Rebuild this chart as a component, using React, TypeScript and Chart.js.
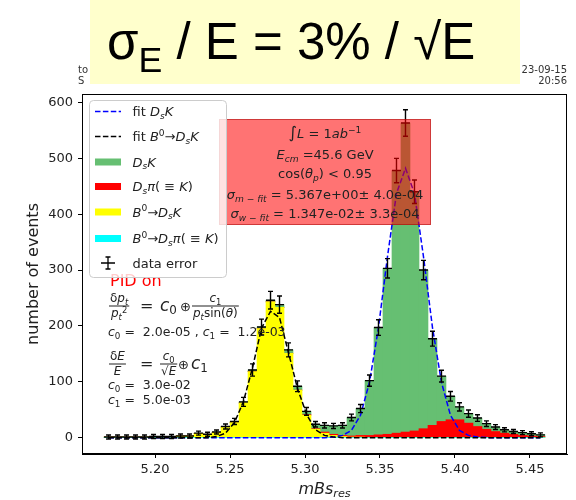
import React, { useEffect, useRef } from 'react';
import { Chart, registerables } from 'chart.js';

Chart.register(...registerables);

// ---------------- data ----------------
const binCenters = [5.169, 5.175, 5.181, 5.187, 5.193, 5.199, 5.205, 5.211, 5.217, 5.223, 5.229, 5.235, 5.241, 5.247, 5.253, 5.259, 5.265, 5.271, 5.277, 5.283, 5.289, 5.295, 5.301, 5.307, 5.313, 5.319, 5.325, 5.331, 5.337, 5.343, 5.349, 5.355, 5.361, 5.367, 5.373, 5.379, 5.385, 5.391, 5.397, 5.403, 5.409, 5.415, 5.421, 5.427, 5.433, 5.439, 5.445, 5.451, 5.457];
const binHalfWidth = 0.003;
const dataCounts = [1, 1, 1, 1, 1, 2, 2, 2, 3, 3, 8, 6, 10, 20, 29, 64, 121, 198, 246, 238, 157, 92, 47, 24, 22, 21, 22, 36, 52, 102, 197, 303, 478, 563, 440, 300, 177, 110, 74, 55, 43, 35, 25, 19, 14, 11, 9, 7, 5];
const histDsK = [0, 0, 0, 0, 0, 0, 0, 0, 0, 0, 1, 0, 1, 1, 2, 2, 3, 3, 3, 5, 6, 7, 6, 8, 12, 15, 18, 33, 48, 98, 192, 297, 470, 553, 428, 284, 155, 81, 42, 23, 17, 15, 10, 8, 6, 5, 5, 4, 3];
const histDsPi = [0, 0, 0, 0, 0, 0, 0, 0, 0, 0, 0, 0, 0, 0, 0, 0, 0, 0, 0, 0, 0, 0, 1, 1, 2, 2, 2, 2, 3, 4, 5, 6, 8, 10, 12, 16, 22, 29, 32, 32, 26, 20, 15, 11, 8, 6, 4, 3, 2];
const histB0DsK = [1, 1, 1, 1, 1, 2, 2, 2, 3, 3, 7, 6, 9, 19, 27, 62, 118, 195, 243, 233, 151, 85, 40, 15, 8, 4, 2, 1, 1, 0, 0, 0, 0, 0, 0, 0, 0, 0, 0, 0, 0, 0, 0, 0, 0, 0, 0, 0, 0];
const histB0DsPi = [0, 0, 0, 0, 0, 0, 0, 0, 0, 0, 0, 0, 0, 0, 0, 0, 0, 0, 0, 0, 0, 0, 0, 0, 0, 0, 0, 0, 0, 0, 0, 0, 0, 0, 0, 0, 0, 0, 0, 0, 0, 0, 0, 0, 0, 0, 0, 0, 0];
const fitDsK = [0, 0, 0, 0, 0, 0, 0, 0, 0, 0, 0, 0, 0, 0, 0, 0, 0, 0, 0, 0, 0, 0, 0, 0, 0, 1, 4, 13, 40, 99, 197, 324, 437, 482, 437, 324, 197, 99, 40, 13, 4, 1, 0, 0, 0, 0, 0, 0, 0];
const fitB0DsK = [0, 0, 0, 0, 0, 0, 0, 0, 0, 0, 0, 0, 2, 8, 27, 65, 125, 196, 226, 215, 152, 88, 42, 14, 4, 1, 0, 0, 0, 0, 0, 0, 0, 0, 0, 0, 0, 0, 0, 0, 0, 0, 0, 0, 0, 0, 0, 0, 0];
const xTicks = [5.2, 5.25, 5.3, 5.35, 5.4, 5.45];
const yTicks = [0, 100, 200, 300, 400, 500, 600];

// ---------------- styles ----------------
const GREEN = '#66BF72';
const RED = '#FF0000';
const YELLOW = '#FFFF00';
const CYAN = '#00FFFF';
const FAM = '"DejaVu Sans"';
const TXT = '#222222';

type Seg = { t: string; it?: boolean; sub?: boolean; sup?: boolean; sc?: number; fam?: string; dy?: number };

function segSize(s: Seg, size: number) {
  return size * (s.sc ?? 1) * (s.sub || s.sup ? 0.7 : 1);
}
function setSegFont(ctx: CanvasRenderingContext2D, s: Seg, size: number) {
  ctx.font = `${s.it ? 'italic ' : ''}${segSize(s, size)}px ${s.fam ?? FAM}`;
}
function measureRich(ctx: CanvasRenderingContext2D, segs: Seg[], size: number) {
  let w = 0;
  for (const s of segs) {
    setSegFont(ctx, s, size);
    w += ctx.measureText(s.t).width;
  }
  return w;
}
function drawRich(ctx: CanvasRenderingContext2D, segs: Seg[], x: number, y: number, size: number, align: 'left' | 'center' | 'right' = 'left') {
  const w = measureRich(ctx, segs, size);
  let cx = align === 'center' ? x - w / 2 : align === 'right' ? x - w : x;
  ctx.textAlign = 'left';
  ctx.textBaseline = 'alphabetic';
  for (const s of segs) {
    setSegFont(ctx, s, size);
    const dy = s.dy !== undefined ? s.dy * size : s.sub ? size * 0.2 : s.sup ? -size * 0.4 : 0;
    ctx.fillText(s.t, cx, y + dy);
    cx += ctx.measureText(s.t).width;
  }
  return w;
}
function drawFrac(ctx: CanvasRenderingContext2D, num: Seg[], den: Seg[], x: number, barY: number, size: number) {
  const wn = measureRich(ctx, num, size);
  const wd = measureRich(ctx, den, size);
  const w = Math.max(wn, wd) + 2;
  drawRich(ctx, num, x + (w - wn) / 2, barY - size * 0.3, size);
  drawRich(ctx, den, x + (w - wd) / 2, barY + size * 0.95, size);
  ctx.fillRect(x, barY - 0.5, w, 1);
  return w;
}

const DsK: Seg[] = [{ t: 'D', it: true }, { t: 's', it: true, sub: true }, { t: 'K', it: true }];
const DsPi: Seg[] = [{ t: 'D', it: true }, { t: 's', it: true, sub: true }, { t: 'π', it: true }, { t: '( ≡ ' }, { t: 'K', it: true }, { t: ')' }];
const B0: Seg[] = [{ t: 'B', it: true }, { t: '0', sup: true }, { t: '→' }];

const legendRows: { kind: string; color: string; y: number; segs: Seg[] }[] = [
  { kind: 'line', color: '#0000FF', y: 111.5, segs: [{ t: 'fit ' }, ...DsK] },
  { kind: 'line', color: '#000000', y: 136.5, segs: [{ t: 'fit ' }, ...B0, ...DsK] },
  { kind: 'patch', color: GREEN, y: 162, segs: DsK },
  { kind: 'patch', color: RED, y: 186.5, segs: DsPi },
  { kind: 'patch', color: YELLOW, y: 212, segs: [...B0, ...DsK] },
  { kind: 'patch', color: CYAN, y: 238.5, segs: [...B0, ...DsPi] },
  { kind: 'err', color: '#000000', y: 263, segs: [{ t: 'data error' }] },
];

const boxLines: { y: number; segs: Seg[] }[] = [
  { y: 138, segs: [{ t: '∫', sc: 1.25 }, { t: 'L', it: true }, { t: ' = 1' }, { t: 'ab', it: true }, { t: '−1', sup: true }] },
  { y: 159, segs: [{ t: 'E', it: true }, { t: 'cm', it: true, sub: true }, { t: ' =45.6 GeV' }] },
  { y: 178, segs: [{ t: 'cos(' }, { t: 'θ', it: true }, { t: 'p', it: true, sub: true }, { t: ') < 0.95' }] },
  { y: 199, segs: [{ t: 'σ', it: true }, { t: 'm − fit', it: true, sub: true }, { t: ' = 5.367e+00± 4.0e-04' }] },
  { y: 218, segs: [{ t: 'σ', it: true }, { t: 'w − fit', it: true, sub: true }, { t: ' = 1.347e-02± 3.3e-04' }] },
];

function drawDashedLine(ctx: CanvasRenderingContext2D, x1: number, x2: number, y: number, color: string) {
  ctx.save();
  ctx.strokeStyle = color;
  ctx.lineWidth = 1.5;
  ctx.setLineDash([5.5, 2.4]);
  ctx.beginPath();
  ctx.moveTo(x1, y);
  ctx.lineTo(x2, y);
  ctx.stroke();
  ctx.restore();
}

const overlayPlugin = {
  id: 'overlay',
  afterDatasetsDraw(chart: any) {
    const ctx: CanvasRenderingContext2D = chart.ctx;
    const xs = chart.scales.x;
    const ys = chart.scales.y;
    const ca = chart.chartArea;
    ctx.save();
    ctx.beginPath();
    ctx.rect(ca.left, ca.top, ca.right - ca.left, ca.bottom - ca.top);
    ctx.clip();
    ctx.strokeStyle = '#000';
    ctx.lineWidth = 1.4;
    binCenters.forEach((c, i) => {
      const n = dataCounts[i];
      const e = Math.sqrt(n);
      const px = xs.getPixelForValue(c);
      const py = ys.getPixelForValue(n);
      let pt = ys.getPixelForValue(n + e);
      let pb = ys.getPixelForValue(n - e);
      if (py - pt < 2) { pt = py - 2; pb = py + 2; }
      const xl = xs.getPixelForValue(c - binHalfWidth);
      const xr = xs.getPixelForValue(c + binHalfWidth);
      ctx.beginPath();
      ctx.moveTo(px, pt); ctx.lineTo(px, pb);
      ctx.moveTo(px - 2.5, pt); ctx.lineTo(px + 2.5, pt);
      ctx.moveTo(px - 2.5, pb); ctx.lineTo(px + 2.5, pb);
      ctx.moveTo(xl, py); ctx.lineTo(xr, py);
      ctx.stroke();
    });
    ctx.restore();
    // frame
    ctx.save();
    ctx.strokeStyle = '#000';
    ctx.lineWidth = 1;
    ctx.strokeRect(Math.round(ca.left) + 0.5, Math.round(ca.top) + 0.5, Math.round(ca.right - ca.left) - 1, Math.round(ca.bottom - ca.top) - 1);
    ctx.restore();
  },
  afterDraw(chart: any) {
    const ctx: CanvasRenderingContext2D = chart.ctx;
    const ca = chart.chartArea;
    ctx.save();
    // header text behind the yellow title box
    ctx.fillStyle = '#333';
    ctx.font = `10px ${FAM}`;
    ctx.textAlign = 'left';
    ctx.fillText('to', 78, 73);
    ctx.fillText('S', 78, 84);
    ctx.textAlign = 'right';
    ctx.fillText('23-09-15', 567, 73);
    ctx.fillText('20:56', 567, 84);
    // yellow title box
    ctx.fillStyle = '#FFFFCC';
    ctx.fillRect(90, 0, 430, 84);
    ctx.fillStyle = '#000';
    drawRich(ctx, [
      { t: 'σ', fam: '"Liberation Sans"' },
      { t: 'E', fam: '"Liberation Sans"', sc: 1 / 0.7 * 0.7, sub: true, dy: 0.25 },
      { t: ' / E = 3% / √E', fam: '"Liberation Sans"' },
    ], 107, 59, 51);

    // axis titles
    ctx.fillStyle = TXT;
    drawRich(ctx, [{ t: 'mBs', it: true }, { t: 'res', it: true, sub: true }], (ca.left + ca.right) / 2, 494, 16, 'center');
    ctx.save();
    ctx.translate(38, (ca.top + ca.bottom) / 2);
    ctx.rotate(-Math.PI / 2);
    ctx.font = `16px ${FAM}`;
    ctx.textAlign = 'center';
    ctx.textBaseline = 'alphabetic';
    ctx.fillText('number of events', 0, 0);
    ctx.restore();

    // red annotation box
    ctx.fillStyle = 'rgba(255,0,0,0.55)';
    ctx.fillRect(219, 119, 212, 106);
    ctx.strokeStyle = 'rgba(160,0,0,0.5)';
    ctx.lineWidth = 1;
    ctx.strokeRect(219.5, 119.5, 211, 105);
    ctx.fillStyle = TXT;
    boxLines.forEach((l) => drawRich(ctx, l.segs, 325, l.y, 13, 'center'));

    // PID text
    ctx.fillStyle = '#FF0000';
    ctx.font = `16px ${FAM}`;
    ctx.textAlign = 'left';
    ctx.fillText('PID on', 110, 286);
    ctx.fillStyle = TXT;
    // formula 1
    drawFrac(ctx, [{ t: 'δ' }, { t: 'p', it: true }, { t: 't', it: true, sub: true }], [{ t: 'p', it: true }, { t: 't', it: true, sub: true }, { t: '2', sup: true }], 109, 306, 12);
    drawRich(ctx, [{ t: '=' }], 140, 311, 16);
    drawRich(ctx, [{ t: 'c', it: true }, { t: '0', sub: true }], 160, 311, 17);
    drawRich(ctx, [{ t: '⊕' }], 180, 311, 13);
    drawFrac(ctx, [{ t: 'c', it: true }, { t: '1', sub: true }], [{ t: 'p', it: true }, { t: 't', it: true, sub: true }, { t: 'sin(' }, { t: 'θ', it: true }, { t: ')' }], 192, 306, 12);
    drawRich(ctx, [{ t: 'c', it: true }, { t: '0', sub: true }, { t: ' =  2.0e-05 , ' }, { t: 'c', it: true }, { t: '1', sub: true }, { t: ' =  1.2e-03' }], 108, 336, 12.5);
    // formula 2
    drawFrac(ctx, [{ t: 'δ' }, { t: 'E', it: true }], [{ t: 'E', it: true }], 109, 364, 12);
    drawRich(ctx, [{ t: '=' }], 140, 369, 16);
    drawFrac(ctx, [{ t: 'c', it: true }, { t: '0', sub: true }], [{ t: '√' }, { t: 'E', it: true }], 160, 364, 12);
    drawRich(ctx, [{ t: '⊕' }], 178, 369, 13);
    drawRich(ctx, [{ t: 'c', it: true }, { t: '1', sub: true }], 191, 369, 17);
    drawRich(ctx, [{ t: 'c', it: true }, { t: '0', sub: true }, { t: ' =  3.0e-02' }], 108, 389, 12.5);
    drawRich(ctx, [{ t: 'c', it: true }, { t: '1', sub: true }, { t: ' =  5.0e-03' }], 108, 404, 12.5);

    // legend
    const lx = 89.5, ly = 100.5, lw = 137, lh = 177;
    ctx.beginPath();
    (ctx as any).roundRect(lx, ly, lw, lh, 4);
    ctx.fillStyle = 'rgba(255,255,255,0.8)';
    ctx.fill();
    ctx.strokeStyle = '#CCCCCC';
    ctx.lineWidth = 1;
    ctx.stroke();
    legendRows.forEach((r) => {
      if (r.kind === 'line') {
        drawDashedLine(ctx, 95, 121, r.y, r.color);
      } else if (r.kind === 'patch') {
        ctx.fillStyle = r.color;
        ctx.fillRect(95, r.y - 3.5, 26, 7);
      } else {
        ctx.strokeStyle = '#000';
        ctx.lineWidth = 1.3;
        ctx.beginPath();
        ctx.moveTo(101, r.y); ctx.lineTo(115, r.y);
        ctx.moveTo(108, r.y - 6); ctx.lineTo(108, r.y + 6);
        ctx.moveTo(105.5, r.y - 6); ctx.lineTo(110.5, r.y - 6);
        ctx.moveTo(105.5, r.y + 6); ctx.lineTo(110.5, r.y + 6);
        ctx.stroke();
      }
      ctx.fillStyle = TXT;
      drawRich(ctx, r.segs, 132.5, r.y + 4.5, 13);
    });
    ctx.restore();
  },
};

function pts(vals: number[]) {
  return binCenters.map((c, i) => ({ x: c, y: vals[i] }));
}

export default function App() {
  const ref = useRef<HTMLCanvasElement | null>(null);
  useEffect(() => {
    document.body.style.margin = '0';
    const canvas = ref.current;
    if (!canvas) return;
    const barCommon = { type: 'bar', stack: 'hist', borderWidth: 0, barPercentage: 1, categoryPercentage: 1 };
    const chart = new Chart(canvas, {
      type: 'bar',
      data: {
        datasets: [
          { type: 'line', label: 'fit B0->DsK', data: pts(fitB0DsK), borderColor: '#000000', borderWidth: 1.5, borderDash: [5.5, 2.4], pointRadius: 0, fill: false, order: 0, stack: 'fitB', tension: 0 },
          { type: 'line', label: 'fit DsK', data: pts(fitDsK), borderColor: '#0000FF', borderWidth: 1.5, borderDash: [5.5, 2.4], pointRadius: 0, fill: false, order: 1, stack: 'fitA', tension: 0 },
          { ...barCommon, label: 'B0->Dspi', data: pts(histB0DsPi), backgroundColor: CYAN, order: 2 },
          { ...barCommon, label: 'B0->DsK', data: pts(histB0DsK), backgroundColor: YELLOW, order: 3 },
          { ...barCommon, label: 'Dspi', data: pts(histDsPi), backgroundColor: RED, order: 4 },
          { ...barCommon, label: 'DsK', data: pts(histDsK), backgroundColor: GREEN, order: 5 },
        ] as any,
      },
      options: {
        responsive: false,
        animation: false,
        devicePixelRatio: 1,
        layout: { padding: { top: 94, right: 9, left: 0, bottom: 0 } },
        plugins: { legend: { display: false }, tooltip: { enabled: false }, title: { display: false } },
        scales: {
          x: {
            type: 'linear',
            stacked: true,
            offset: false,
            min: 5.1513,
            max: 5.4747,
            afterBuildTicks: (s: any) => { s.ticks = xTicks.map((v) => ({ value: v })); },
            afterFit: (s: any) => { s.height = 46; },
            grid: { display: true, offset: false, drawOnChartArea: false, drawTicks: true, tickLength: 4, color: '#000', tickColor: '#000' },
            border: { display: true, color: '#000', width: 1 },
            ticks: { autoSkip: false, maxRotation: 0, padding: 4, color: TXT, font: { family: 'DejaVu Sans', size: 13 }, callback: (v: any) => Number(v).toFixed(2) },
          },
          y: {
            type: 'linear',
            stacked: true,
            min: -29.3,
            max: 615,
            afterBuildTicks: (s: any) => { s.ticks = yTicks.map((v) => ({ value: v })); },
            afterFit: (s: any) => { s.width = 82; },
            grid: { display: true, drawOnChartArea: false, drawTicks: true, tickLength: 4, color: '#000', tickColor: '#000' },
            border: { display: true, color: '#000', width: 1 },
            ticks: { padding: 5, color: TXT, font: { family: 'DejaVu Sans', size: 13 }, callback: (v: any) => String(v) },
          },
        },
      } as any,
      plugins: [overlayPlugin],
    });
    return () => chart.destroy();
  }, []);
  return (
    <div style={{ position: 'absolute', left: 0, top: 0, width: 576, height: 500 }}>
      <canvas ref={ref} width={576} height={500} style={{ width: 576, height: 500, display: 'block' }} />
    </div>
  );
}
